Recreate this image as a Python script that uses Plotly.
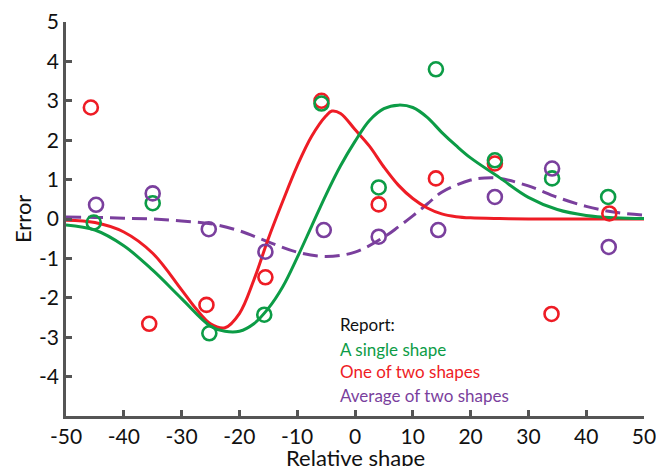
import plotly.graph_objects as go

# ---- data ----
pts_green_x = [-45.2, -35.0, -25.2, -15.7, -5.8, 4.1, 14.0, 24.2, 34.1, 43.8]
pts_green_y = [-0.09, 0.40, -2.90, -2.43, 2.93, 0.80, 3.80, 1.49, 1.03, 0.56]
pts_red_x = [-45.7, -35.6, -25.7, -15.5, -5.8, 4.1, 14.0, 24.2, 34.0, 44.0]
pts_red_y = [2.83, -2.66, -2.18, -1.48, 3.00, 0.37, 1.03, 1.41, -2.41, 0.14]
pts_purple_x = [-44.8, -35.0, -25.3, -15.5, -5.4, 4.1, 14.4, 24.2, 34.1, 43.9]
pts_purple_y = [0.36, 0.65, -0.26, -0.83, -0.28, -0.45, -0.28, 0.56, 1.28, -0.71]

fit_green_x = [-50, -45, -40, -35, -30, -25, -22.5, -20, -17.5, -15, -12.5, -10, -7.5, -5,
               -2.5, 0, 2.5, 5, 7.5, 10, 12.5, 15, 17.5, 20, 25, 30, 35, 40, 45, 50]
fit_green_y = [-0.15, -0.28, -0.68, -1.30, -2.02, -2.72, -2.85, -2.85, -2.66, -2.27, -1.72, -0.98,
               -0.18, 0.62, 1.35, 1.97, 2.50, 2.80, 2.89, 2.83, 2.58, 2.20, 1.86, 1.55, 1.05,
               0.55, 0.24, 0.09, 0.03, 0.01]

fit_red_x = [-50, -45, -40, -35, -30, -27.5, -25, -22.5, -20, -17.5, -15, -12.5, -10, -7.5,
             -5, -4, -2.5, 0, 2.5, 5, 7.5, 10, 12.5, 15, 17.5, 20, 25, 30, 40, 50]
fit_red_y = [-0.03, -0.09, -0.33, -0.87, -1.80, -2.28, -2.66, -2.76, -2.40, -1.55, -0.50, 0.45,
             1.35, 2.10, 2.62, 2.74, 2.68, 2.27, 1.85, 1.32, 0.86, 0.52, 0.28, 0.13, 0.06,
             0.03, 0.01, 0.0, 0.0, 0.0]

fit_purple_x = [-50, -45, -40, -35, -30, -25, -20, -15, -10, -5, 0, 5, 7.5, 10, 12.5, 15,
                20, 22.5, 25, 30, 35, 40, 45, 50]
fit_purple_y = [0.05, 0.04, 0.02, 0.0, -0.05, -0.12, -0.30, -0.58, -0.84, -0.95, -0.84, -0.46,
                -0.20, 0.08, 0.38, 0.68, 0.99, 1.04, 1.03, 0.84, 0.55, 0.32, 0.17, 0.10]

legend_title = "Report:"
legend_labels = ["A single shape", "One of two shapes", "Average of two shapes"]
x_ticks = [-50, -40, -30, -20, -10, 0, 10, 20, 30, 40, 50]
y_ticks = [5, 4, 3, 2, 1, 0, -1, -2, -3, -4]
x_title = "Relative shape"
y_title = "Error"

GREEN = "#0c9c46"
RED = "#ee1c25"
PURPLE = "#7a3f9d"
FONT = "Lato"

fig = go.Figure()

fig.add_trace(go.Scatter(x=fit_purple_x, y=fit_purple_y, mode="lines",
                         line=dict(color=PURPLE, width=3, dash="15px,7px", shape="spline", smoothing=1)))
fig.add_trace(go.Scatter(x=fit_red_x, y=fit_red_y, mode="lines",
                         line=dict(color=RED, width=3, shape="spline", smoothing=1)))
fig.add_trace(go.Scatter(x=fit_green_x, y=fit_green_y, mode="lines",
                         line=dict(color=GREEN, width=3, shape="spline", smoothing=1)))

for px, py, c in [(pts_red_x, pts_red_y, RED), (pts_green_x, pts_green_y, GREEN),
                  (pts_purple_x, pts_purple_y, PURPLE)]:
    fig.add_trace(go.Scatter(x=px, y=py, mode="markers",
                             marker=dict(symbol="circle-open", size=14, color=c,
                                         line=dict(width=2.6, color=c))))

ann_y = [-2.69, -3.30, -3.88, -4.47]
texts = [legend_title] + legend_labels
colors = ["#111111", GREEN, RED, PURPLE]
for t, yy, c in zip(texts, ann_y, colors):
    fig.add_annotation(x=-3, y=yy, xref="x", yref="y", text=t, showarrow=False,
                       xanchor="left", yanchor="middle", font=dict(family=FONT, size=17, color=c))

# axis titles
fig.add_annotation(x=0.5, y=-0.106, xref="paper", yref="paper", text=x_title, showarrow=False,
                   xanchor="center", yanchor="middle", font=dict(family=FONT, size=22, color="#111111"))
fig.add_annotation(x=-0.076, y=0.5, xref="paper", yref="paper", text=y_title, showarrow=False,
                   textangle=-90, xanchor="center", yanchor="middle",
                   font=dict(family=FONT, size=22, color="#111111"))

axis_common = dict(showgrid=False, zeroline=False, showline=True, linecolor="#555555", linewidth=2.5,
                   ticks="inside", ticklen=6, tickwidth=2.5, tickcolor="#555555", automargin=False,
                   tickfont=dict(family=FONT, size=21, color="#111111"))

fig.update_xaxes(range=[-50, 50], tickvals=x_ticks, ticktext=[str(v) for v in x_ticks],
                 ticklabeloverflow="allow", **axis_common)
fig.update_yaxes(range=[-5, 5], tickvals=y_ticks, ticktext=[str(v) for v in y_ticks],
                 ticklabeloverflow="allow", **axis_common)

fig.update_layout(width=656, height=466, margin=dict(l=66, r=12, t=22, b=50, autoexpand=False),
                  plot_bgcolor="white", paper_bgcolor="white", showlegend=False,
                  font=dict(family=FONT))

fig.write_html("out.html", config={"displayModeBar": False},
               post_script="document.body.style.margin='0';document.body.style.overflow='hidden';")
